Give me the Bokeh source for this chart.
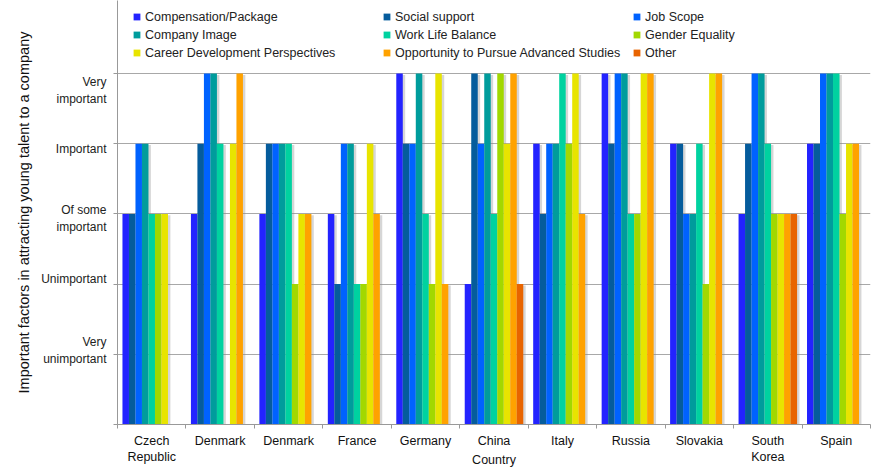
from bokeh.plotting import figure
from bokeh.models import FixedTicker, Range1d, Legend, LegendItem
from bokeh.embed import file_html
from bokeh.resources import INLINE

# Countries surveyed (Denmark appears twice in the survey results)
countries = ["Czech\nRepublic", "Denmark", "Denmark", "France", "Germany", "China",
             "Italy", "Russia", "Slovakia", "South\nKorea", "Spain"]

# Importance scale: 1 = very unimportant ... 5 = very important
levels = ["Very\nunimportant", "Unimportant", "Of some\nimportant", "Important", "Very\nimportant"]

series_names = ["Compensation/Package", "Social support", "Job Scope",
                "Company Image", "Work Life Balance", "Gender Equality",
                "Career Development Perspectives", "Opportunity to Pursue Advanced Studies", "Other"]

compensation = [3, 3, 3, 3, 5, 2, 4, 5, 4, 3, 4]
social_support = [3, 4, 4, 2, 4, 5, 3, 4, 4, 4, 4]
job_scope = [4, 5, 4, 4, 4, 4, 4, 5, 3, 5, 5]
company_image = [4, 5, 4, 4, 5, 5, 4, 5, 3, 5, 5]
work_life_balance = [3, 4, 4, 2, 3, 3, 5, 3, 4, 4, 5]
gender_equality = [3, 0, 2, 2, 2, 5, 4, 3, 2, 3, 3]
career_development = [3, 4, 3, 4, 5, 4, 5, 5, 5, 3, 4]
advanced_studies = [0, 5, 3, 3, 2, 5, 3, 5, 5, 3, 4]
other = [0, 0, 0, 0, 0, 2, 0, 0, 0, 3, 0]

series_values = [compensation, social_support, job_scope, company_image, work_life_balance,
                 gender_equality, career_development, advanced_studies, other]

colors = ["#2323ff", "#055c9c", "#0062ff", "#009c9c", "#00d2a0",
          "#a2d800", "#e8e400", "#ffa200", "#e86400"]

FONT = "Liberation Sans"
n_groups = len(countries)
n_series = len(series_names)
bar_w = 0.095

p = figure(width=875, height=470, output_backend="svg", toolbar_location=None,
           x_range=Range1d(0, n_groups), y_range=Range1d(0, 6.04),
           min_border_left=117, min_border_right=5, min_border_top=0, min_border_bottom=46)
p.background_fill_color = "white"
p.border_fill_color = "white"
p.outline_line_color = None
p.xgrid.visible = False
p.ygrid.ticker = FixedTicker(ticks=[0, 1, 2, 3, 4, 5])
p.ygrid.grid_line_color = "#a8a8a8"
p.ygrid.grid_line_width = 1

legend_items = []
for j, (name, vals, col) in enumerate(zip(series_names, series_values, colors)):
    xs = [i + 0.5 + (j - (n_series - 1) / 2) * bar_w for i in range(n_groups)]
    # soft drop shadow to the right of each bar
    p.vbar(x=[x + 0.035 for x in xs], top=[max(v - 0.02, 0) for v in vals], width=bar_w,
           fill_color="#8a8a8a", fill_alpha=0.35, line_color=None)
for j, (name, vals, col) in enumerate(zip(series_names, series_values, colors)):
    xs = [i + 0.5 + (j - (n_series - 1) / 2) * bar_w for i in range(n_groups)]
    p.vbar(x=xs, top=vals, width=bar_w, fill_color=col, line_color=None)
    # square swatch used only for the legend (its single point lies outside the view)
    swatch = p.scatter(x=[-10], y=[-10], marker="square", fill_color=col, line_color=None)
    legend_items.append(LegendItem(label=name, renderers=[swatch]))

legend = Legend(items=legend_items, orientation="horizontal", ncols=3,
                location=(11, 424 - 61), padding=4, margin=0, spacing=1,
                glyph_width=17, glyph_height=17, label_height=17, label_width=232,
                label_standoff=-2, label_text_font=FONT, label_text_font_size="12.5px",
                label_text_color="#222222", border_line_color=None,
                background_fill_alpha=0)
p.add_layout(legend)

# x axis: country names centred on each group, small ticks between groups
centers = [i + 0.5 for i in range(n_groups)]
p.xaxis.ticker = FixedTicker(ticks=centers, minor_ticks=list(range(n_groups + 1)))
p.xaxis.major_label_overrides = {c: name for c, name in zip(centers, countries)}
p.xaxis.major_tick_out = 0
p.xaxis.major_tick_in = 0
p.xaxis.minor_tick_out = 4
p.xaxis.minor_tick_in = 0
p.xaxis.major_label_standoff = 5
p.xaxis.major_label_text_font = FONT
p.xaxis.major_label_text_font_size = "12.5px"
p.xaxis.major_label_text_color = "#111111"
p.xaxis.axis_label = "Country"
p.xaxis.axis_label_text_font = FONT
p.xaxis.axis_label_text_font_size = "12.5px"
p.xaxis.axis_label_text_font_style = "normal"
p.xaxis.axis_label_text_color = "#111111"
p.xaxis.axis_label_standoff = -14
p.xaxis.axis_line_color = "#999999"
p.xaxis.minor_tick_line_color = "#999999"

# y axis: level names between the grid lines, small tick marks on each level
label_nudge = [0.05, 0.07, -0.07, -0.08, -0.24]
label_pos = [k + 1 + dy for k, dy in enumerate(label_nudge)]
p.yaxis.ticker = FixedTicker(ticks=label_pos, minor_ticks=[0, 1, 2, 3, 4, 5])
p.yaxis.major_label_overrides = {pos: text for pos, text in zip(label_pos, levels)}
p.yaxis.major_tick_out = 0
p.yaxis.major_tick_in = 0
p.yaxis.minor_tick_out = 4
p.yaxis.minor_tick_in = 0
p.yaxis.major_label_standoff = 7
p.yaxis.major_label_text_font = FONT
p.yaxis.major_label_text_font_size = "12px"
p.yaxis.major_label_text_color = "#222222"
p.yaxis.axis_line_color = "#999999"
p.yaxis.minor_tick_line_color = "#999999"
p.yaxis.axis_label = "Important factors in attracting young talent to a company"
p.yaxis.axis_label_text_font = FONT
p.yaxis.axis_label_text_font_size = "14.5px"
p.yaxis.axis_label_text_font_style = "normal"
p.yaxis.axis_label_text_color = "#111111"
p.yaxis.axis_label_standoff = 6

open("out.html", "w").write(file_html(p, INLINE))
